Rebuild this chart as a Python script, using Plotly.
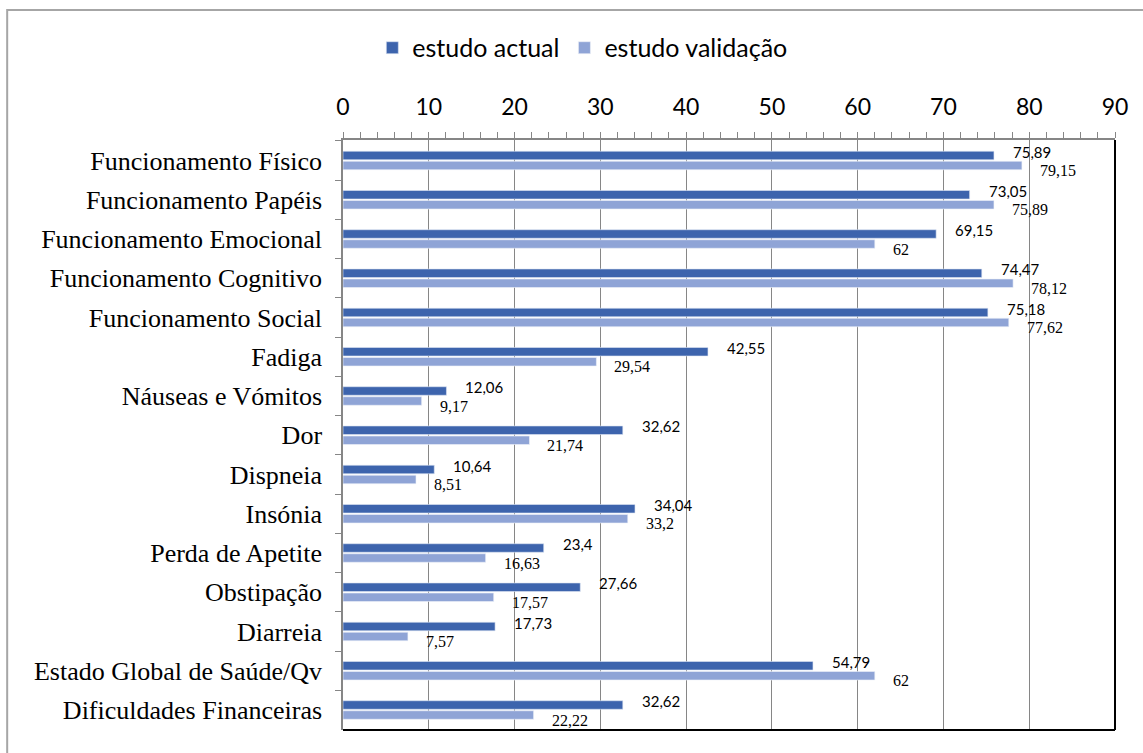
import plotly.graph_objects as go

# Categories (top to bottom) and the two series
categorias = [
    "Funcionamento Físico",
    "Funcionamento Papéis",
    "Funcionamento Emocional",
    "Funcionamento Cognitivo",
    "Funcionamento Social",
    "Fadiga",
    "Náuseas e Vómitos",
    "Dor",
    "Dispneia",
    "Insónia",
    "Perda de Apetite",
    "Obstipação",
    "Diarreia",
    "Estado Global de Saúde/Qv",
    "Dificuldades Financeiras",
]
estudo_actual = [75.89, 73.05, 69.15, 74.47, 75.18, 42.55, 12.06, 32.62,
                 10.64, 34.04, 23.4, 27.66, 17.73, 54.79, 32.62]
estudo_validacao = [79.15, 75.89, 62, 78.12, 77.62, 29.54, 9.17, 21.74,
                    8.51, 33.2, 16.63, 17.57, 7.57, 62, 22.22]
x_ticks = list(range(0, 91, 10))

COR_ACTUAL = "#3d64ad"
COR_VALIDACAO = "#8fa4d6"
SANS = "Lato, Carlito, Calibri, sans-serif"
SERIF = "Liberation Serif, Times New Roman, serif"


def fmt(v):
    s = f"{v:.2f}".rstrip("0").rstrip(".")
    return s.replace(".", ",")


fig = go.Figure()
fig.add_trace(go.Bar(
    name="estudo actual", y=categorias, x=estudo_actual, orientation="h",
    marker=dict(color=COR_ACTUAL, line=dict(color="#dfe6f3", width=0.6)),
))
fig.add_trace(go.Bar(
    name="estudo validação", y=categorias, x=estudo_validacao, orientation="h",
    marker=dict(color=COR_VALIDACAO, line=dict(color="#eef1f9", width=0.6)),
))

annotations = []
for cat, v in zip(categorias, estudo_actual):
    annotations.append(dict(
        x=v, y=cat, xref="x", yref="y", text=fmt(v), showarrow=False,
        xanchor="left", yanchor="middle", xshift=17, yshift=9,
        font=dict(family=SANS, size=15, color="#000000"),
    ))
for cat, v in zip(categorias, estudo_validacao):
    annotations.append(dict(
        x=v, y=cat, xref="x", yref="y", text=fmt(v), showarrow=False,
        xanchor="left", yanchor="middle", xshift=16, yshift=-10,
        font=dict(family=SERIF, size=16, color="#000000"),
    ))

shapes = [
    # right and bottom frame of the plot area
    dict(type="line", xref="x domain", yref="y domain", x0=1, x1=1, y0=0, y1=1,
         line=dict(color="#000000", width=2)),
    dict(type="line", xref="x domain", yref="y domain", x0=0, x1=1, y0=0, y1=0,
         line=dict(color="#000000", width=2)),
    # outer chart border
    dict(type="rect", xref="paper", yref="paper", x0=-0.435, x1=1.06,
         y0=-0.06, y1=1.2203, line=dict(color="#a6a6a6", width=2),
         fillcolor="rgba(0,0,0,0)", layer="below"),
]

fig.update_layout(
    width=1143, height=753,
    margin=dict(l=343, r=28, t=140, b=23),
    paper_bgcolor="white", plot_bgcolor="white",
    barmode="group", bargap=0.49, bargroupgap=0.15,
    showlegend=True,
    legend=dict(
        orientation="h", x=0.31, y=1.156, xanchor="center", yanchor="middle",
        font=dict(family=SANS, size=25, color="#000000"),
        traceorder="normal", itemwidth=30,
    ),
    xaxis=dict(
        side="top", range=[0, 90], tickvals=x_ticks,
        ticks="outside", ticklen=6, tickcolor="#868686",
        showline=True, linecolor="#868686", linewidth=1.5,
        showgrid=True, gridcolor="#868686", gridwidth=1,
        zeroline=False,
        minor=dict(dtick=2, ticks="outside", ticklen=6, tickcolor="#868686",
                   showgrid=False),
        tickfont=dict(family=SANS, size=23, color="#000000"),
        ticklabelstandoff=8,
    ),
    yaxis=dict(
        autorange="reversed", type="category",
        ticks="outside", ticklen=6, tickcolor="#868686", tickson="boundaries",
        showline=True, linecolor="#868686", linewidth=1.5,
        showgrid=False,
        tickfont=dict(family=SERIF, size=26, color="#000000"),
        ticklabelstandoff=14,
    ),
    annotations=annotations,
    shapes=shapes,
)

fig.write_html("out.html")
